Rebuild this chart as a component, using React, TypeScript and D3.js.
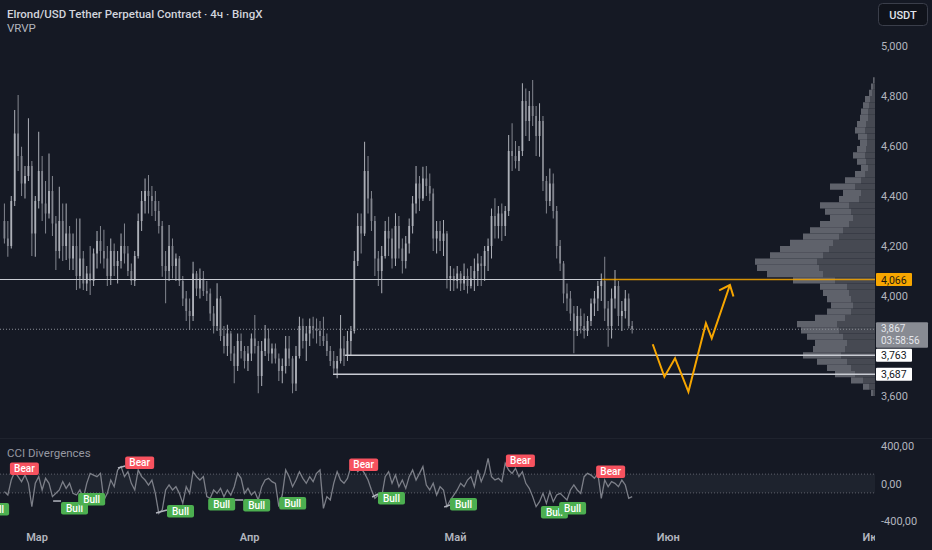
import { useEffect, useRef } from 'react'
import * as d3 from 'd3'

const W = 932
const H = 550
const PANE_R = 875 // right edge of the panes, price scale starts here
const BG = '#151924'
const FONT = "Roboto, 'Noto Sans', sans-serif"

// 12h candles, first one opens 2024-02-25 00:00
const START = new Date(2024, 1, 25)
// [open, high, low, close]
const candles: [number, number, number, number][] = [
  [4300, 4370, 4210, 4230], [4230, 4300, 4157, 4200], [4200, 4400, 4190, 4380], [4380, 4744, 4360, 4650],
  [4650, 4804, 4500, 4560], [4560, 4597, 4400, 4450], [4450, 4520, 4390, 4480], [4480, 4711, 4460, 4520],
  [4520, 4540, 4160, 4250], [4250, 4400, 4157, 4380], [4380, 4657, 4350, 4500], [4500, 4560, 4300, 4370],
  [4370, 4460, 4250, 4330], [4330, 4570, 4310, 4420], [4420, 4480, 4240, 4290], [4290, 4320, 4104, 4180],
  [4180, 4437, 4150, 4300], [4300, 4370, 4140, 4200], [4200, 4370, 4144, 4250], [4250, 4280, 4104, 4150],
  [4150, 4250, 4104, 4200], [4200, 4310, 4024, 4080], [4080, 4310, 4030, 4150], [4150, 4180, 4024, 4050],
  [4050, 4120, 4020, 4090], [4090, 4200, 4004, 4060], [4060, 4190, 4040, 4170], [4170, 4260, 4110, 4220],
  [4220, 4280, 4130, 4180], [4180, 4265, 4110, 4150], [4150, 4200, 4040, 4080], [4080, 4230, 4044, 4180],
  [4180, 4210, 4080, 4120], [4120, 4180, 4050, 4140], [4140, 4250, 4110, 4200], [4200, 4290, 4130, 4170],
  [4170, 4200, 4080, 4100], [4100, 4130, 4044, 4060], [4060, 4180, 4040, 4160], [4160, 4330, 4150, 4300],
  [4300, 4420, 4260, 4380], [4380, 4470, 4330, 4420], [4420, 4484, 4330, 4400], [4400, 4440, 4320, 4380],
  [4380, 4420, 4300, 4340], [4340, 4380, 4250, 4280], [4280, 4300, 4077, 4120], [4120, 4180, 3971, 4100],
  [4100, 4284, 4060, 4200], [4200, 4230, 4070, 4120], [4120, 4170, 4060, 4150], [4150, 4160, 4040, 4060],
  [4060, 4080, 3960, 3990], [3990, 4020, 3900, 3940], [3940, 3990, 3864, 3920], [3920, 4137, 3900, 4090],
  [4090, 4100, 4000, 4030], [4030, 4110, 3990, 4070], [4070, 4100, 4000, 4020], [4020, 4060, 3980, 4010],
  [4010, 4030, 3900, 3930], [3930, 3960, 3850, 3880], [3880, 4051, 3860, 3990], [3990, 4000, 3820, 3840],
  [3840, 3880, 3770, 3800], [3800, 3885, 3760, 3850], [3850, 3860, 3740, 3770], [3770, 3800, 3651, 3720],
  [3720, 3850, 3700, 3820], [3820, 3850, 3750, 3780], [3780, 3800, 3710, 3740], [3740, 3800, 3700, 3770],
  [3770, 3850, 3740, 3830], [3830, 3924, 3770, 3800], [3800, 3820, 3611, 3680], [3680, 3820, 3640, 3780],
  [3780, 3884, 3760, 3830], [3830, 3870, 3740, 3770], [3770, 3810, 3730, 3790], [3790, 3810, 3730, 3750],
  [3750, 3770, 3660, 3700], [3700, 3750, 3651, 3720], [3720, 3840, 3690, 3790], [3790, 3840, 3720, 3750],
  [3750, 3760, 3611, 3650], [3650, 3800, 3620, 3760], [3760, 3917, 3750, 3880], [3880, 3910, 3790, 3820],
  [3820, 3880, 3740, 3850], [3850, 3910, 3800, 3880], [3880, 3917, 3830, 3870], [3870, 3910, 3810, 3860],
  [3860, 3900, 3800, 3840], [3840, 3917, 3800, 3820], [3820, 3850, 3760, 3780], [3780, 3800, 3720, 3740],
  [3740, 3780, 3690, 3710], [3710, 3760, 3671, 3740], [3740, 3924, 3730, 3790], [3790, 3840, 3720, 3760],
  [3760, 3860, 3740, 3820], [3820, 3880, 3760, 3860], [3860, 4180, 3850, 4140], [4140, 4331, 4120, 4280],
  [4280, 4330, 4170, 4250], [4250, 4617, 4240, 4500], [4500, 4560, 4330, 4390], [4390, 4420, 4260, 4300],
  [4300, 4320, 4080, 4150], [4150, 4180, 4040, 4100], [4100, 4200, 4011, 4160], [4160, 4300, 4150, 4260],
  [4260, 4317, 4160, 4230], [4230, 4270, 4110, 4150], [4150, 4331, 4120, 4280], [4280, 4320, 4150, 4190],
  [4190, 4230, 4090, 4140], [4140, 4240, 4110, 4210], [4210, 4310, 4170, 4280], [4280, 4400, 4250, 4370],
  [4370, 4520, 4330, 4450], [4450, 4480, 4340, 4390], [4390, 4517, 4380, 4470], [4470, 4520, 4400, 4440],
  [4440, 4490, 4380, 4410], [4410, 4430, 4180, 4230], [4230, 4300, 4170, 4260], [4260, 4300, 4180, 4220],
  [4220, 4304, 4160, 4250], [4250, 4260, 4030, 4070], [4070, 4120, 4020, 4080], [4080, 4110, 4020, 4060],
  [4060, 4120, 4030, 4090], [4090, 4100, 4020, 4050], [4050, 4130, 4024, 4080], [4080, 4110, 4010, 4040],
  [4040, 4120, 4030, 4070], [4070, 4150, 4020, 4100], [4100, 4170, 4040, 4130], [4130, 4160, 4040, 4120],
  [4120, 4200, 4060, 4180], [4180, 4230, 4100, 4200], [4200, 4350, 4150, 4320], [4320, 4391, 4230, 4280],
  [4280, 4360, 4230, 4330], [4330, 4370, 4220, 4280], [4280, 4360, 4240, 4340], [4340, 4644, 4320, 4580],
  [4580, 4691, 4500, 4560], [4560, 4620, 4510, 4540], [4540, 4600, 4500, 4580], [4580, 4851, 4560, 4780],
  [4780, 4830, 4640, 4700], [4700, 4820, 4620, 4760], [4760, 4864, 4680, 4720], [4720, 4760, 4560, 4640],
  [4640, 4771, 4557, 4700], [4700, 4720, 4420, 4460], [4460, 4480, 4330, 4380], [4380, 4510, 4360, 4450],
  [4450, 4490, 4310, 4340], [4340, 4360, 4150, 4200], [4200, 4224, 4100, 4130], [4130, 4140, 3971, 4010],
  [4010, 4050, 3940, 3990], [3990, 4020, 3900, 3930], [3930, 3960, 3771, 3860], [3860, 3960, 3840, 3920],
  [3920, 3950, 3850, 3880], [3880, 3930, 3830, 3860], [3860, 3920, 3840, 3900], [3900, 3990, 3880, 3970],
  [3970, 4020, 3920, 3990], [3990, 4060, 3940, 4040], [4040, 4090, 3980, 4060], [4060, 4157, 3900, 3950],
  [3950, 3980, 3797, 3880], [3880, 4030, 3830, 3990], [3990, 4104, 3950, 4040], [4040, 4060, 3880, 3920],
  [3920, 3980, 3860, 3940], [3940, 4024, 3910, 3990], [3990, 4010, 3870, 3880], [3880, 3900, 3850, 3867],
]

// CCI value for each candle
const cci = [
  -87, -123, 37, 126, 73, 20, 90, 2, -247, 2, 73, -69, 55, 2, -140, -105,
  -69, 20, -52, 2, -105, -123, -69, -158, 2, 108, 90, 73, 108, -176, -105, 37,
  -34, 144, 180, 73, 126, 2, -69, 144, 73, 37, -16, 37, -105, -318, -283, -69,
  -16, -69, -34, -105, -212, -34, -105, 126, 73, 37, 73, -140, -158, -69, -105, -52,
  -140, -69, -123, -34, 108, 55, -105, -52, -123, -87, -176, -34, 37, 55, 20, 2,
  -247, -123, 144, 73, -34, 37, 126, 55, 2, 73, 20, 108, 144, -265, -140, -176,
  2, 126, 37, 2, 55, 180, 197, 126, 162, 108, 37, -69, -158, -123, -140, 73,
  126, 2, 90, -34, 37, -52, 73, 144, 37, 108, 180, -16, -69, 2, -123, -34,
  -69, -247, -176, -123, -69, 2, -34, 37, 73, -34, 144, 20, 108, 268, 73, 37,
  55, 20, 215, 144, 108, 162, 73, 126, 2, -52, -140, -247, -194, -105, -212, -87,
  -194, -123, -105, -140, -176, -69, -16, -69, -105, 73, 108, 90, 55, 108, -158, 37,
  -34, 20, 2, -34, 37, -16, -158, -140,
]

// divergence signals: candle index, CCI value of the label anchor
const signalType = ['Bull', 'Bear', 'Bull', 'Bull', 'Bear', 'Bull', 'Bull', 'Bull', 'Bull', 'Bear', 'Bull', 'Bull', 'Bear', 'Bull', 'Bull', 'Bear']
const signalIdx = [-6, 2.1, 17, 22, 35.7, 47.9, 59.9, 70.1, 80.6, 101, 109.4, 130.4, 146.7, 156.9, 162.2, 173]
const signalCci = [-208, 91, -197, -101, 155, -229, -155, -165, -144, 133, -91, -155, 176, -240, -197, 59]
// divergence lines: [idx1, cci1, idx2, cci2]
const divLines: [number, number, number, number][] = [
  [14.7, -187, 17, -187], [33.6, 165, 35.7, 187], [44.7, -315, 47.9, -283],
  [67.7, -176, 70.1, -176], [107.7, -144, 109.4, -112], [128.7, -251, 130.4, -229],
]

// visible range volume profile, rows of 25 USDT
const vpLow = [
  3600, 3625, 3650, 3675, 3700, 3725, 3750, 3775, 3800, 3825, 3850, 3875, 3900, 3925, 3950, 3975, 4000,
  4025, 4050, 4075, 4100, 4125, 4150, 4175, 4200, 4225, 4250, 4275, 4300, 4325, 4350, 4375, 4400, 4425,
  4450, 4475, 4500, 4525, 4550, 4575, 4600, 4625, 4650, 4675, 4700, 4725, 4750, 4775, 4800, 4825, 4850,
]
const vpUp = [
  2, 6, 12, 20, 24, 28, 34, 30, 28, 32, 36, 38, 30, 24, 22, 24, 26,
  28, 40, 52, 56, 58, 52, 46, 42, 36, 32, 26, 22, 24, 26, 16, 14, 20,
  14, 10, 7, 9, 10, 9, 8, 8, 10, 9, 7, 7, 6, 5, 3, 2, 1,
]
const vpDown = [
  2, 6, 12, 20, 24, 30, 38, 32, 32, 36, 38, 40, 30, 24, 22, 24, 26,
  27, 42, 56, 62, 62, 53, 49, 43, 36, 33, 29, 23, 26, 29, 20, 18, 25,
  16, 10, 7, 9, 12, 9, 7, 9, 10, 9, 8, 7, 6, 5, 3, 2, 1,
]

const priceTicks = [3600, 3800, 4000, 4200, 4400, 4600, 4800, 5000]
const cciTicks = [400, 0, -400]
const monthDates = [new Date(2024, 2, 1), new Date(2024, 3, 1), new Date(2024, 4, 1), new Date(2024, 5, 1), new Date(2024, 6, 1)]
const monthLabels = ['Мар', 'Апр', 'Май', 'Июн', 'Июл']

// horizontal levels drawn on the chart
const levelPrice = [4066, 3763, 3687]
const levelFromIdx = [-10, 99.8, 96.3]
const orangeFromIdx = 174.7
const lastPrice = 3867
const countdown = '03:58:56'

// projected path (orange drawing), candle index / price
const arrowIdx = [189.5, 192.9, 196.0, 199.9, 205.0, 206.7, 212.0]
const arrowPrice = [3807, 3677, 3751, 3617, 3891, 3831, 4044]

export default function App() {
  const svgRef = useRef<SVGSVGElement>(null)

  useEffect(() => {
    if (!svgRef.current) return
    const svg = d3.select(svgRef.current)
    svg.selectAll('*').remove()
    svg.attr('width', W).attr('height', H).style('display', 'block')

    svg.append('rect').attr('width', W).attr('height', H).attr('fill', BG)

    const defs = svg.append('defs')
    defs.append('clipPath').attr('id', 'clip-main')
      .append('rect').attr('width', PANE_R).attr('height', 437)
    defs.append('clipPath').attr('id', 'clip-sub')
      .append('rect').attr('y', 439).attr('width', PANE_R).attr('height', 86)
    defs.append('clipPath').attr('id', 'clip-time')
      .append('rect').attr('y', 525).attr('width', PANE_R).attr('height', 25)

    const timeOf = (i: number) => new Date(START.getTime() + i * 12 * 3600 * 1000)
    const x = d3.scaleTime()
      .domain([monthDates[0], monthDates[4]])
      .range([37, 874])
    const xi = (i: number) => x(timeOf(i))
    const y = d3.scaleLinear().domain([3600, 5000]).range([396, 46])
    const yc = d3.scaleLinear().domain([-400, 400]).range([521, 446])
    const vx = d3.scaleLinear().domain([0, 120]).range([PANE_R, PANE_R - 120])
    const step = xi(1) - xi(0)

    // pane separator
    svg.append('line')
      .attr('x1', 0).attr('x2', W).attr('y1', 438.5).attr('y2', 438.5)
      .attr('stroke', '#1f232e')

    const main = svg.append('g').attr('clip-path', 'url(#clip-main)')

    // candles
    const cg = main.append('g')
    candles.forEach(([o, h, l, c], i) => {
      const cx = xi(i) + step / 2
      const col = c >= o ? '#adb0b8' : '#83868f'
      cg.append('line')
        .attr('x1', cx).attr('x2', cx).attr('y1', y(h)).attr('y2', y(l))
        .attr('stroke', col).attr('stroke-width', 1)
      cg.append('rect')
        .attr('x', cx - 0.9).attr('width', 1.8)
        .attr('y', y(Math.max(o, c)))
        .attr('height', Math.max(1, Math.abs(y(o) - y(c))))
        .attr('fill', col)
    })

    // volume profile
    const rowH = y(3600) - y(3625)
    const vp = main.append('g')
    vpLow.forEach((p, i) => {
      const up = vpUp[i]
      const down = vpDown[i]
      const top = y(p + 25)
      vp.append('rect')
        .attr('x', vx(up + down)).attr('y', top)
        .attr('width', vx(up) - vx(up + down)).attr('height', rowH)
        .attr('fill', '#5f626b')
      vp.append('rect')
        .attr('x', vx(up)).attr('y', top)
        .attr('width', vx(0) - vx(up)).attr('height', rowH)
        .attr('fill', '#464952')
    })

    // current price line (dotted)
    main.append('line')
      .attr('x1', 0).attr('x2', PANE_R).attr('y1', y(lastPrice)).attr('y2', y(lastPrice))
      .attr('stroke', '#8b8e97').attr('stroke-dasharray', '1,2').attr('stroke-width', 1)

    // horizontal levels
    levelPrice.forEach((p, i) => {
      const x2 = i === 0 ? xi(orangeFromIdx) : PANE_R
      main.append('line')
        .attr('x1', xi(levelFromIdx[i])).attr('x2', x2)
        .attr('y1', y(p)).attr('y2', y(p))
        .attr('stroke', '#c9ccd3')
        .attr('stroke-width', i === 0 ? 1 : 1.6)
    })
    main.append('line')
      .attr('x1', xi(orangeFromIdx)).attr('x2', PANE_R)
      .attr('y1', y(levelPrice[0])).attr('y2', y(levelPrice[0]))
      .attr('stroke', '#f7a600').attr('stroke-width', 1.5).attr('opacity', 0.85)

    // projection arrow
    const pts: [number, number][] = arrowIdx.map((d, i) => [xi(d), y(arrowPrice[i])])
    main.append('path')
      .attr('d', d3.line()(pts))
      .attr('fill', 'none').attr('stroke', '#f7a600').attr('stroke-width', 2)
      .attr('stroke-linejoin', 'miter')
    const [ax, ay] = pts[pts.length - 1]
    const [bx, by] = pts[pts.length - 2]
    const ang = Math.atan2(ay - by, ax - bx)
    const head = [ang + Math.PI * 0.8, ang - Math.PI * 0.75].map(a => [ax + 12 * Math.cos(a), ay + 12 * Math.sin(a)] as [number, number])
    main.append('path')
      .attr('d', d3.line()([head[0], [ax, ay], head[1]]))
      .attr('fill', 'none').attr('stroke', '#f7a600').attr('stroke-width', 2)

    // CCI pane
    const sub = svg.append('g').attr('clip-path', 'url(#clip-sub)')
    sub.append('rect')
      .attr('x', 0).attr('width', PANE_R)
      .attr('y', yc(100)).attr('height', yc(-100) - yc(100))
      .attr('fill', '#787b86').attr('opacity', 0.1)
    ;[100, -100].forEach(v => {
      sub.append('line')
        .attr('x1', 0).attr('x2', PANE_R).attr('y1', yc(v)).attr('y2', yc(v))
        .attr('stroke', '#5d606b').attr('stroke-dasharray', '1,2')
    })
    sub.append('path')
      .datum(cci)
      .attr('d', d3.line<number>().x((_, i) => xi(i) + step / 2).y(d => yc(d)))
      .attr('fill', 'none').attr('stroke', '#7c7f88').attr('stroke-width', 1.3)

    divLines.forEach(([i1, v1, i2, v2]) => {
      sub.append('line')
        .attr('x1', xi(i1)).attr('y1', yc(v1)).attr('x2', xi(i2)).attr('y2', yc(v2))
        .attr('stroke', '#b2b5be').attr('stroke-width', 1.5)
    })

    signalType.forEach((t, i) => {
      const px = xi(signalIdx[i])
      const py = yc(signalCci[i])
      const bw = t === 'Bear' ? 29 : 27
      const bh = 12.5
      const by0 = t === 'Bear' ? py - bh : py
      const g = sub.append('g')
      g.append('rect')
        .attr('x', px).attr('y', by0).attr('width', bw).attr('height', bh).attr('rx', 2)
        .attr('fill', t === 'Bear' ? '#f7525f' : '#4caf50')
      g.append('text')
        .attr('x', px + bw / 2).attr('y', by0 + bh / 2 + 3.6)
        .attr('text-anchor', 'middle')
        .attr('font-family', FONT).attr('font-size', 10).attr('font-weight', 500)
        .attr('fill', '#ffffff')
        .text(t)
    })

    // price scale; ticks hidden behind a price tag are skipped, as the terminal does
    const axisText = '#b2b5be'
    const tagPrices = [levelPrice[0], levelPrice[1], levelPrice[2]]
    priceTicks
      .filter(p => tagPrices.every(t => Math.abs(y(p) - y(t)) > 13) && !(y(p) > y(lastPrice) - 8 && y(p) < y(lastPrice) + 20))
      .forEach(p => {
        svg.append('text')
          .attr('x', 881).attr('y', y(p) + 4)
          .attr('font-family', FONT).attr('font-size', 11).attr('fill', axisText)
          .text(d3.format(',')(p))
      })

    const tag = (p: number, fill: string, color: string) => {
      svg.append('rect')
        .attr('x', PANE_R + 1).attr('y', y(p) - 6.5).attr('width', 36).attr('height', 13).attr('rx', 1)
        .attr('fill', fill)
      svg.append('text')
        .attr('x', 881).attr('y', y(p) + 4)
        .attr('font-family', FONT).attr('font-size', 10.5).attr('fill', color)
        .text(d3.format(',')(p))
    }
    tag(levelPrice[0], '#f7a600', '#1e1a10')

    // last price + countdown
    svg.append('rect')
      .attr('x', PANE_R + 1).attr('y', y(lastPrice) - 7).attr('width', 52).attr('height', 25.5).attr('rx', 1)
      .attr('fill', '#888b93')
    svg.append('text')
      .attr('x', 881).attr('y', y(lastPrice) + 3)
      .attr('font-family', FONT).attr('font-size', 10).attr('fill', '#e4e6eb')
      .text(d3.format(',')(lastPrice))
    svg.append('text')
      .attr('x', 881).attr('y', y(lastPrice) + 14.5)
      .attr('font-family', FONT).attr('font-size', 10).attr('fill', '#e4e6eb')
      .text(countdown)

    tag(levelPrice[1], '#ffffff', '#131722')
    tag(levelPrice[2], '#ffffff', '#131722')

    // currency button
    svg.append('rect')
      .attr('x', 878.5).attr('y', 3.5).attr('width', 49).attr('height', 22).attr('rx', 4)
      .attr('fill', '#10131b').attr('stroke', '#3a3e4a')
    svg.append('text')
      .attr('x', 903).attr('y', 18.5).attr('text-anchor', 'middle')
      .attr('font-family', FONT).attr('font-size', 11).attr('font-weight', 500).attr('fill', '#e1e3ea')
      .text('USDT')

    // CCI scale
    const fmt = d3.formatLocale({ decimal: ',', thousands: ' ', grouping: [3], currency: ['', ''], minus: '-' }).format('.2f')
    cciTicks.forEach(v => {
      svg.append('text')
        .attr('x', 881).attr('y', yc(v) + 4)
        .attr('font-family', FONT).attr('font-size', 11).attr('fill', axisText)
        .text(fmt(v))
    })

    // time scale
    const tg = svg.append('g').attr('clip-path', 'url(#clip-time)')
    monthDates.forEach((d, i) => {
      tg.append('text')
        .attr('x', x(d)).attr('y', 541).attr('text-anchor', 'middle')
        .attr('font-family', FONT).attr('font-size', 11).attr('font-weight', 600).attr('fill', axisText)
        .text(monthLabels[i])
    })

    // titles
    svg.append('text')
      .attr('x', 7).attr('y', 18)
      .attr('font-family', FONT).attr('font-size', 11.5).attr('font-weight', 500).attr('fill', '#d1d4dc')
      .text('Elrond/USD Tether Perpetual Contract · 4ч · BingX')
    svg.append('text')
      .attr('x', 7).attr('y', 32)
      .attr('font-family', FONT).attr('font-size', 11.5).attr('fill', '#b2b5be')
      .text('VRVP')
    svg.append('text')
      .attr('x', 7).attr('y', 457)
      .attr('font-family', FONT).attr('font-size', 11.5).attr('fill', '#9598a1')
      .text('CCI Divergences')
  }, [])

  return (
    <div style={{ position: 'fixed', left: 0, top: 0 }}>
      <svg ref={svgRef}></svg>
    </div>
  )
}
